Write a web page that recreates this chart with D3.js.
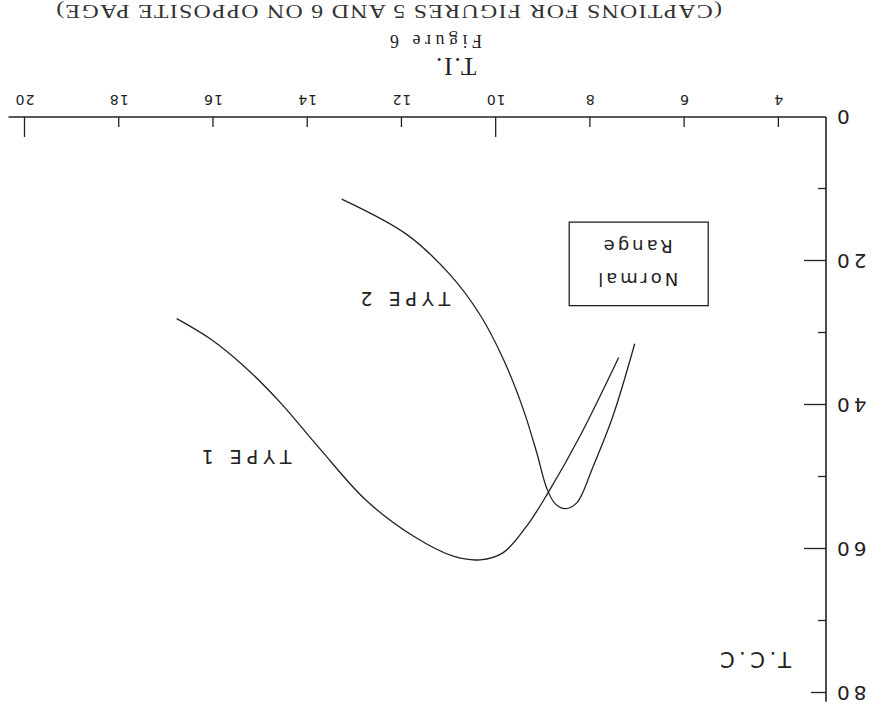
<!DOCTYPE html>
<html>
<head>
<meta charset="utf-8">
<script src="https://cdn.jsdelivr.net/npm/d3@7"></script>
<style>
  body { margin: 0; background: #fff; }
  svg { display: block; }
</style>
</head>
<body>
<div id="chart"></div>
<script>
// Values (T.I. on x, T.C.C on y)
var type1TI  = [16.78, 16.07, 15.37, 14.59, 13.74, 12.75, 11.76, 10.91, 10.34, 9.85, 9.35, 8.90, 8.22, 7.40];
var type1TCC = [28.0, 30.8, 34.5, 39.6, 46.1, 53.3, 58.2, 61.0, 61.5, 60.5, 56.8, 52.2, 44.3, 33.4];
var type2TI  = [13.28, 11.90, 10.98, 10.34, 9.85, 9.43, 9.14, 8.93, 8.75, 8.54, 8.29, 7.94, 7.52, 7.06];
var type2TCC = [11.4, 16.3, 21.9, 27.5, 33.6, 40.5, 46.6, 51.5, 53.7, 54.4, 53.6, 48.5, 41.5, 31.5];

var xTickValues = [4, 6, 8, 10, 12, 14, 16, 18, 20];
var yTickValues = [10, 20, 30, 40, 50, 60, 70, 80];
var yLabelValues = [0, 20, 40, 60, 80];

var normalRangeTI = [5.5, 8.45];
var normalRangeTCC = [14.6, 26.2];

var svgWidth = 882;
var svgHeight = 715;
var ink = "#222";

var svg = d3.select("#chart")
  .append("svg")
  .attr("width", svgWidth)
  .attr("height", svgHeight);

svg.append("rect")
  .attr("width", svgWidth)
  .attr("height", svgHeight)
  .attr("fill", "#fff");

// The page was scanned upside down, so the whole figure is turned 180 degrees
var page = svg.append("g")
  .attr("transform", `rotate(180 ${svgWidth / 2} ${svgHeight / 2})`);

// Scales
var xScale = d3.scaleLinear()
  .domain([3, 20])
  .range([56, 857]);

var yScale = d3.scaleLinear()
  .domain([0, 80])
  .range([598, 22]);

// Axis lines
page.append("line")
  .attr("x1", xScale(3)).attr("x2", xScale(20.35))
  .attr("y1", yScale(0)).attr("y2", yScale(0))
  .attr("stroke", ink).attr("stroke-width", 1.6);

page.append("line")
  .attr("x1", xScale(3)).attr("x2", xScale(3))
  .attr("y1", yScale(0)).attr("y2", yScale(81.2))
  .attr("stroke", ink).attr("stroke-width", 1.6);

// X axis ticks + labels
var xAxis = d3.axisBottom(xScale)
  .tickValues(xTickValues)
  .tickSizeOuter(0)
  .tickSize(-10)
  .tickPadding(12);

var xAxisG = page.append("g")
  .attr("transform", `translate(0, ${yScale(0)})`)
  .call(xAxis);

xAxisG.select(".domain").remove();
xAxisG.selectAll(".tick line")
  .attr("stroke", ink)
  .attr("stroke-width", 1.3)
  .attr("y2", d => (d % 10 === 0 ? -20 : -10));
xAxisG.selectAll(".tick text")
  .attr("fill", ink)
  .style("font-family", "DejaVu Sans, sans-serif")
  .style("font-size", "14px")
  .style("letter-spacing", "1px");

// Y axis ticks
var yAxis = d3.axisLeft(yScale)
  .tickValues(yTickValues)
  .tickSizeOuter(0)
  .tickSize(-8)
  .tickFormat("");

var yAxisG = page.append("g")
  .attr("transform", `translate(${xScale(3)}, 0)`)
  .call(yAxis);

yAxisG.select(".domain").remove();
yAxisG.selectAll(".tick line")
  .attr("stroke", ink)
  .attr("stroke-width", 1.3)
  .attr("x2", d => (d === 80 ? 15 : d % 20 === 0 ? 22 : 8));

// Y labels (0 sits at the corner)
page.selectAll(".ylabel")
  .data(yLabelValues)
  .enter()
  .append("text")
  .attr("class", "ylabel")
  .attr("x", xScale(3) - 7)
  .attr("y", d => yScale(d))
  .attr("dy", "0.36em")
  .attr("text-anchor", "end")
  .attr("fill", ink)
  .style("font-family", "DejaVu Sans, sans-serif")
  .style("font-size", "20px")
  .style("letter-spacing", "4px")
  .text(d => d);

// Curves
var line = d3.line()
  .x(d => xScale(d[0]))
  .y(d => yScale(d[1]))
  .curve(d3.curveCatmullRom.alpha(0.5));

var series = [
  { name: "TYPE 1", points: d3.zip(type1TI, type1TCC) },
  { name: "TYPE 2", points: d3.zip(type2TI, type2TCC) }
];

page.selectAll(".curve")
  .data(series)
  .enter()
  .append("path")
  .attr("class", "curve")
  .attr("d", d => line(d.points))
  .attr("fill", "none")
  .attr("stroke", ink)
  .attr("stroke-width", 1.3);

// Curve labels
var curveLabels = [
  { text: "TYPE 1", x: 15.35, y: 47.2 },
  { text: "TYPE 2", x: 11.98, y: 25.3 }
];

page.selectAll(".clabel")
  .data(curveLabels)
  .enter()
  .append("text")
  .attr("class", "clabel")
  .attr("x", d => xScale(d.x))
  .attr("y", d => yScale(d.y))
  .attr("dy", "0.36em")
  .attr("text-anchor", "middle")
  .attr("fill", ink)
  .style("font-family", "DejaVu Sans, sans-serif")
  .style("font-size", "19px")
  .style("letter-spacing", "5px")
  .text(d => d.text);

// Normal range box
page.append("rect")
  .attr("x", xScale(normalRangeTI[0]))
  .attr("y", yScale(normalRangeTCC[1]))
  .attr("width", xScale(normalRangeTI[1]) - xScale(normalRangeTI[0]))
  .attr("height", yScale(normalRangeTCC[0]) - yScale(normalRangeTCC[1]))
  .attr("fill", "none")
  .attr("stroke", ink)
  .attr("stroke-width", 1.3);

var boxCx = (xScale(normalRangeTI[0]) + xScale(normalRangeTI[1])) / 2;

page.selectAll(".nlabel")
  .data(["Normal", "Range"])
  .enter()
  .append("text")
  .attr("class", "nlabel")
  .attr("x", boxCx + 2)
  .attr("y", (d, i) => yScale(i === 0 ? 22.6 : 18.0))
  .attr("dy", "0.36em")
  .attr("text-anchor", "middle")
  .attr("fill", ink)
  .style("font-family", "DejaVu Sans, sans-serif")
  .style("font-size", "18px")
  .style("letter-spacing", "3px")
  .text(d => d);

// Axis titles
page.append("text")
  .attr("x", 91)
  .attr("y", 63)
  .attr("fill", ink)
  .style("font-family", "DejaVu Sans, sans-serif")
  .style("font-size", "21px")
  .style("letter-spacing", "4.5px")
  .text("T.C.C");

page.append("text")
  .attr("x", 427)
  .attr("y", 657)
  .attr("text-anchor", "middle")
  .attr("fill", ink)
  .style("font-family", "Liberation Serif, serif")
  .style("font-size", "25px")
  .style("letter-spacing", "2px")
  .text("T.I.");

page.append("text")
  .attr("x", 400)
  .attr("y", 680)
  .attr("textLength", 92)
  .attr("lengthAdjust", "spacing")
  .attr("fill", ink)
  .style("font-family", "Liberation Serif, serif")
  .style("font-size", "18px")
  .text("Figure 6");

page.append("text")
  .attr("x", 160)
  .attr("y", 710)
  .attr("textLength", 667)
  .attr("lengthAdjust", "spacingAndGlyphs")
  .attr("fill", "#333")
  .style("font-family", "Liberation Serif, serif")
  .style("font-size", "19px")
  .style("letter-spacing", "1px")
  .text("(CAPTIONS FOR FIGURES 5 AND 6 ON OPPOSITE PAGE)");
</script>
</body>
</html>
